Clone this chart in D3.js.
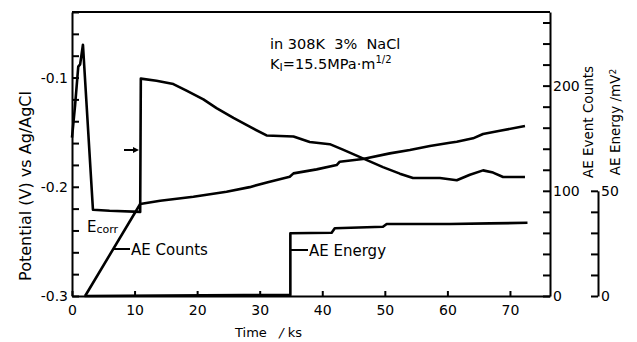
<!DOCTYPE html>
<html>
<head>
<meta charset="utf-8">
<script src="https://cdn.jsdelivr.net/npm/d3@7"></script>
<style>
  body { margin: 0; background: #fff; }
  svg text { font-family: "DejaVu Sans", sans-serif; fill: #000; }
  .axis path, .axis line { stroke: #000; stroke-width: 2; }
  .axis text { font-size: 14px; }
  .curve { fill: none; stroke: #000; stroke-width: 2.6; stroke-linejoin: round; }
</style>
</head>
<body>
<div id="chart"></div>
<script>
// time axis (ks)
const timeTicks = [0, 10, 20, 30, 40, 50, 60, 70];

// corrosion potential, V vs Ag/AgCl
const potentialTime = [0, 0.5, 1.0, 1.3, 1.75, 3.35, 6.0, 10.9, 11.0, 13.5, 16.2, 18.3, 21.0, 23.1, 25.8, 28.4,
  31.1, 35.4, 38.0, 41.2, 43.3, 46.5, 49.7, 52.4, 54.5, 58.8, 61.5, 63.6, 65.7, 67.3, 68.9, 72.4];
const potentialValue = [-0.155, -0.125, -0.09, -0.088, -0.070, -0.221, -0.222, -0.223, -0.101, -0.103, -0.106, -0.112,
  -0.120, -0.128, -0.137, -0.145, -0.153, -0.154, -0.159, -0.161, -0.166, -0.174, -0.182, -0.188, -0.192,
  -0.192, -0.194, -0.189, -0.185, -0.187, -0.191, -0.191];

// AE event counts
const countTime = [2.1, 10.9, 14.1, 19.4, 24.7, 28.4, 31.6, 34.8, 35.4, 39.1, 42.3, 42.8, 46.5, 50.8, 54.0, 57.2,
  60.4, 61.5, 64.1, 65.7, 68.4, 72.4];
const countValue = [0, 87.5, 90.6, 94.4, 99.1, 103.5, 108.7, 113.4, 116.6, 120.4, 124.5, 127.7, 130.2, 135.6, 138.8,
  142.6, 145.7, 146.7, 149.9, 154, 157.1, 161.6];

// AE energy, mV^2
const energyTime = [2, 27.5, 34.9, 34.9, 41.5, 42.0, 49.7, 50.3, 60.4, 66.8, 72.8];
const energyValue = [0, 0.4, 0.4, 29.8, 30.1, 32.2, 32.9, 34.2, 34.2, 34.5, 34.8];

const potentialTicks = d3.range(0, 14).map(i => +(-0.3 + i * 0.02).toFixed(2));
const potentialLabels = [-0.3, -0.2, -0.1];
const countTicks = d3.range(0, 14).map(i => i * 20);
const countLabels = [0, 100, 200];
const energyTicks = [0, 10, 20, 30, 40, 50];
const energyLabels = [0, 50];

(function () {
  let width = 637, height = 342,
    left = 72, right = 550, top = 12, bottom = 296;

  let svg = d3.select("#chart").append("svg")
    .attr("width", width)
    .attr("height", height);

  let x = d3.scaleLinear().domain([0, 76.4]).range([left, right]);
  let yPot = d3.scaleLinear().domain([-0.3, -0.04]).range([bottom, top]);
  let yCount = d3.scaleLinear().domain([0, 270]).range([bottom, top]);
  // 50 mV^2 sits level with 100 counts
  let yEnergy = d3.scaleLinear().domain([0, 135]).range([bottom, top]);
  let yEnergyAxis = d3.scaleLinear().domain([0, 50]).range([bottom, yEnergy(50)]);

  // frame top
  svg.append("line")
    .attr("x1", left).attr("x2", right)
    .attr("y1", top).attr("y2", top)
    .attr("stroke", "#000").attr("stroke-width", 2);

  svg.append("g").attr("class", "axis")
    .attr("transform", `translate(${left},0)`)
    .call(d3.axisLeft(yPot).tickValues(potentialTicks).tickSizeInner(-7).tickSizeOuter(0).tickPadding(4)
      .tickFormat(d => potentialLabels.includes(d) ? d.toFixed(1).replace("−", "-") : ""));

  svg.append("g").attr("class", "axis")
    .attr("transform", `translate(0,${bottom})`)
    .call(d3.axisBottom(x).tickValues(timeTicks).tickSizeInner(-5).tickSizeOuter(0).tickPadding(9));

  svg.append("g").attr("class", "axis")
    .attr("transform", `translate(${right},0)`)
    .call(d3.axisRight(yCount).tickValues(countTicks).tickSizeInner(-7).tickSizeOuter(0).tickPadding(3)
      .tickFormat(d => countLabels.includes(d) ? d : ""));

  svg.append("g").attr("class", "axis")
    .attr("transform", `translate(598,0)`)
    .call(d3.axisRight(yEnergyAxis).tickValues(energyTicks).tickSizeInner(-7).tickSizeOuter(0).tickPadding(3)
      .tickFormat(d => energyLabels.includes(d) ? d : ""));

  svg.selectAll(".axis .domain").attr("fill", "none");

  let line = (ys) => d3.line().x(d => x(d[0])).y(d => ys(d[1]));

  svg.append("path").attr("class", "curve")
    .attr("d", line(yPot)(d3.zip(potentialTime, potentialValue)));
  svg.append("path").attr("class", "curve")
    .attr("d", line(yCount)(d3.zip(countTime, countValue)));
  svg.append("path").attr("class", "curve")
    .attr("d", line(yEnergy)(d3.zip(energyTime, energyValue)));

  // axis titles
  svg.append("text")
    .attr("transform", "translate(31,186) rotate(-90)")
    .attr("text-anchor", "middle")
    .style("font-size", "16px")
    .text("Potential (V) vs Ag/AgCl");

  svg.append("text")
    .attr("transform", "translate(593,122) rotate(-90)")
    .attr("text-anchor", "middle")
    .style("font-size", "13.5px")
    .text("AE Event Counts");

  let en = svg.append("text")
    .attr("transform", "translate(620,122) rotate(-90)")
    .attr("text-anchor", "middle")
    .style("font-size", "13.5px")
    .text("AE Energy /mV");
  en.append("tspan").attr("dy", "-0.4em").style("font-size", "9px").text("2");

  let tl = svg.append("text")
    .attr("x", 235).attr("y", 337)
    .style("font-size", "13px")
    .style("white-space", "pre")
    .text("Time   ");
  tl.append("tspan").style("font-style", "italic").text("/");
  tl.append("tspan").text(" ks");

  // conditions
  svg.append("text")
    .attr("x", 270).attr("y", 49)
    .style("font-size", "14.5px")
    .style("white-space", "pre")
    .text("in 308K  3%  NaCl");

  let k = svg.append("text")
    .attr("x", 270).attr("y", 69)
    .style("font-size", "14.5px")
    .text("K");
  k.append("tspan").attr("dy", "2").style("font-size", "11px").text("I");
  k.append("tspan").attr("dy", "-2").text("=15.5MPa·m");
  k.append("tspan").attr("dy", "-6").style("font-size", "10px").text("1/2");

  // curve labels
  let ec = svg.append("text")
    .attr("x", 87).attr("y", 232)
    .style("font-size", "15px")
    .text("E");
  ec.append("tspan").attr("dy", "1").style("font-size", "11px").text("corr");

  svg.append("line")
    .attr("x1", x(6.6)).attr("x2", 130)
    .attr("y1", 249).attr("y2", 249)
    .attr("stroke", "#000").attr("stroke-width", 2);
  svg.append("text")
    .attr("x", 131).attr("y", 255)
    .style("font-size", "15px")
    .text("AE Counts");

  svg.append("line")
    .attr("x1", x(34.9)).attr("x2", 308)
    .attr("y1", 250).attr("y2", 250)
    .attr("stroke", "#000").attr("stroke-width", 2);
  svg.append("text")
    .attr("x", 309).attr("y", 256)
    .style("font-size", "15px")
    .text("AE Energy");

  // small arrow toward the jump at 11 ks
  svg.append("line")
    .attr("x1", 124).attr("x2", 134)
    .attr("y1", 150).attr("y2", 150)
    .attr("stroke", "#000").attr("stroke-width", 2);
  svg.append("path")
    .attr("d", "M133,147L139,150L133,153Z")
    .attr("fill", "#000");
})();
</script>
</body>
</html>
